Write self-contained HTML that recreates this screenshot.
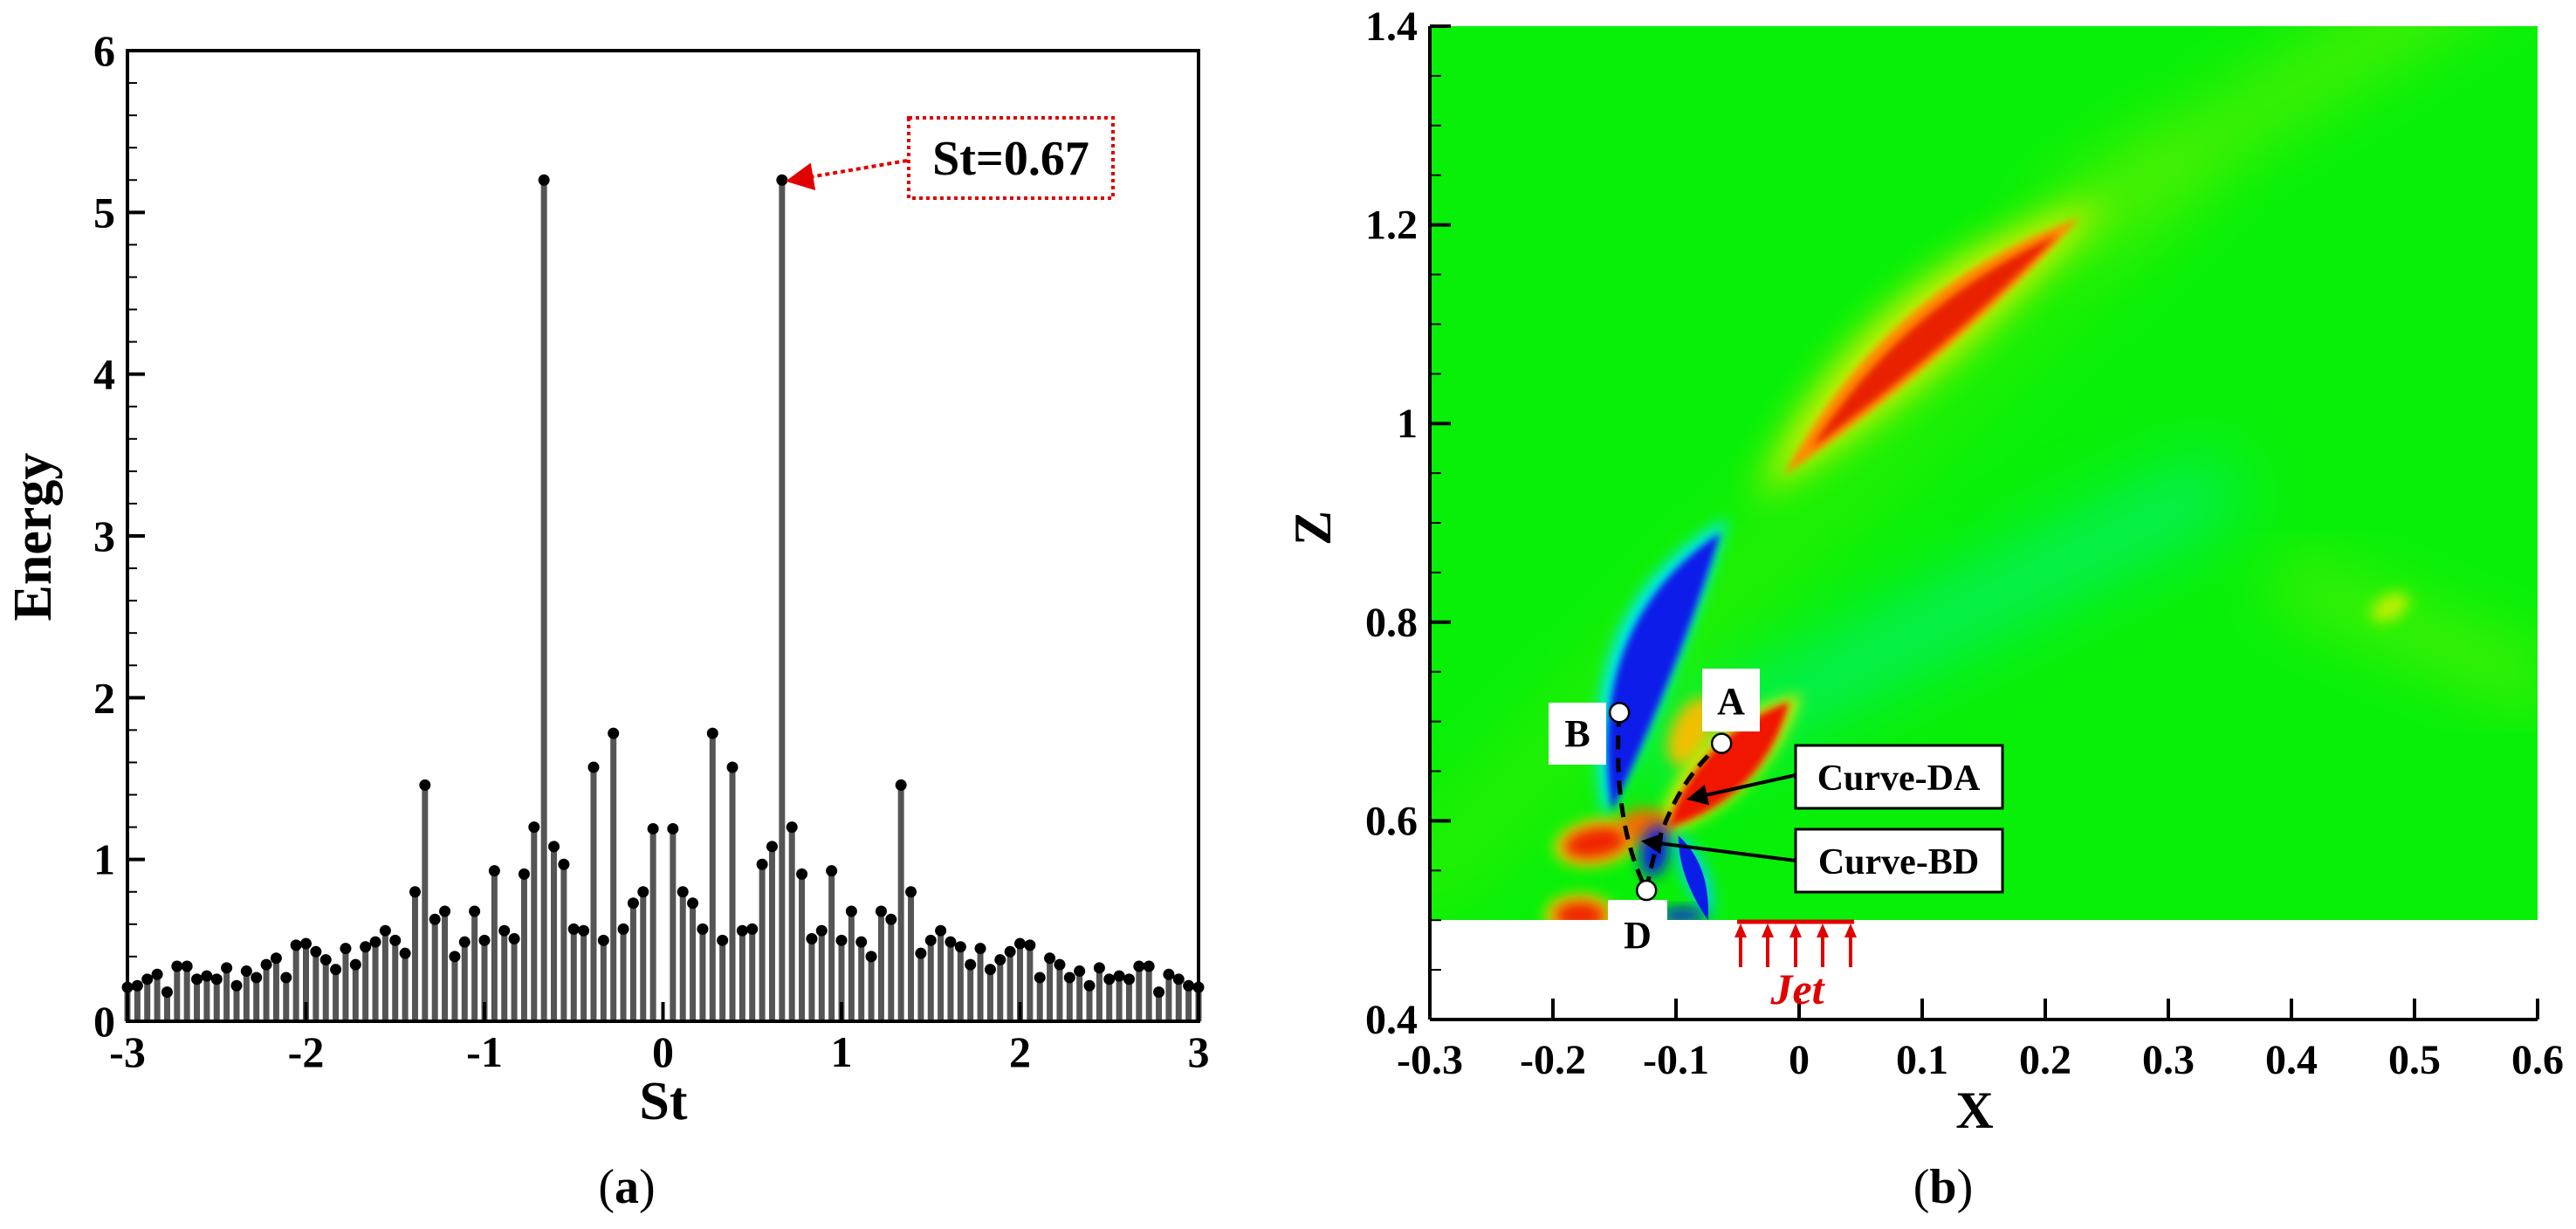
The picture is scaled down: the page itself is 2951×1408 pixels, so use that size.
<!DOCTYPE html>
<html><head><meta charset="utf-8">
<style>
html,body{margin:0;padding:0;background:#fff;}
svg{display:block;font-family:"Liberation Serif",serif;}
</style></head>
<body>
<svg id="fig" width="2951" height="1408" viewBox="0 0 2951 1408" xmlns="http://www.w3.org/2000/svg">
<defs>
<filter id="b4" x="-50%" y="-50%" width="200%" height="200%"><feGaussianBlur stdDeviation="4"/></filter>
<filter id="b8" x="-50%" y="-50%" width="200%" height="200%"><feGaussianBlur stdDeviation="8"/></filter>
<filter id="b20" x="-50%" y="-50%" width="200%" height="200%"><feGaussianBlur stdDeviation="20"/></filter>
<filter id="b40" x="-50%" y="-50%" width="200%" height="200%"><feGaussianBlur stdDeviation="40"/></filter>
<clipPath id="fieldclip"><rect x="1638" y="30" width="1269" height="1024"/></clipPath>
<marker id="arrR" markerWidth="8" markerHeight="8" refX="6" refY="4" orient="auto" markerUnits="strokeWidth"><path d="M0,0 L8,4 L0,8 z" fill="#e00000"/></marker>
<marker id="arrK" markerWidth="6" markerHeight="6" refX="5" refY="3" orient="auto" markerUnits="strokeWidth"><path d="M0,0 L6,3 L0,6 z" fill="#000"/></marker>
</defs>
<g id="left"></g>
<g id="right"></g>
</svg>
<script>
// ---------- Panel (a) data ----------
const stStep = 1/18;
const energyHalf = [1.19,0.80,0.73,0.57,1.78,0.50,1.57,0.56,0.57,0.97,1.08,5.20,1.20,0.91,0.51,0.56,0.93,0.50,0.68,0.49,0.40,0.68,0.63,1.46,0.80,0.42,0.50,0.56,0.49,0.46,0.35,0.45,0.32,0.38,0.43,0.48,0.47,0.27,0.39,0.35,0.27,0.31,0.22,0.33,0.26,0.28,0.26,0.34,0.34,0.18,0.29,0.26,0.22,0.21];
const xTickLabels = ["-3","-2","-1","0","1","2","3"];
const yTickLabels = ["0","1","2","3","4","5","6"];

const NS = "http://www.w3.org/2000/svg";
function mk(parent, tag, attrs, text){
  const e = document.createElementNS(NS, tag);
  for (const k in attrs) e.setAttribute(k, attrs[k]);
  if (text !== undefined) e.textContent = text;
  parent.appendChild(e);
  return e;
}
const L = {x0:146, x1:1373, y0:58, y1:1170};
const sx = v => L.x0 + (v + 3) / 6 * (L.x1 - L.x0);
const sy = v => L.y1 - v / 6 * (L.y1 - L.y0);
const gl = document.getElementById('left');

const stems = mk(gl,'g',{});


for (let k = -energyHalf.length; k <= energyHalf.length; k++) {
  if (k === 0) continue;
  const e = energyHalf[Math.abs(k) - 1];
  const st = k * stStep;
  const ln = mk(stems,'line',{x1:sx(st),x2:sx(st),y1:L.y1,y2:sy(e),stroke:'#555',"stroke-width":7});
  
  
  const c = mk(stems,'circle',{cx:sx(st),cy:sy(e),r:6.5,fill:'#000'});
  
  
}
const fr = mk(gl,'rect',{x:L.x0,y:L.y0,width:L.x1-L.x0,height:L.y1-L.y0,fill:'none',stroke:'#000',"stroke-width":4});


for (let i = 0; i <= 30; i++) {
  const v = i * 0.2, major = i % 5 === 0;
  mk(gl,'line',{x1:L.x0,x2:L.x0+(major?20:11),y1:sy(v),y2:sy(v),stroke:'#000',"stroke-width":major?4:2});
}
yTickLabels.forEach((t,i)=>{
  const tx = mk(gl,'text',{x:L.x0-14,y:sy(+t)+17,"font-size":50,"font-weight":"bold","text-anchor":"end"},t);
  
  
});
xTickLabels.forEach((t,i)=>{
  mk(gl,'line',{x1:sx(+t),x2:sx(+t),y1:L.y1,y2:L.y1-22,stroke:'#000',"stroke-width":4});
  const tx = mk(gl,'text',{x:sx(+t),y:L.y1+52,"font-size":50,"font-weight":"bold","text-anchor":"middle"},t);
  
  
});
let t1 = mk(gl,'text',{x:760,y:1282,"font-size":62,"font-weight":"bold","text-anchor":"middle"},'St');
 
let t2 = mk(gl,'text',{x:58,y:615,"font-size":62,"font-weight":"bold","text-anchor":"middle",transform:"rotate(-90 58 615)"},'Energy');
 
let t3 = mk(gl,'text',{x:718,y:1378,"font-size":56,"text-anchor":"middle"},'');
t3.innerHTML = '(<tspan font-weight="bold">a</tspan>)';
 
const ann = mk(gl,'g',{});
 
mk(ann,'rect',{x:1041,y:135,width:234,height:92,fill:'#fff',stroke:'#e00000',"stroke-width":4,"stroke-dasharray":"4 4"});
mk(ann,'text',{x:1158,y:200,"font-size":56,"font-weight":"bold","text-anchor":"middle"},'St=0.67');
mk(ann,'line',{x1:1039,y1:184,x2:sx(12*stStep)+12,y2:sy(5.2),stroke:'#e00000',"stroke-width":4,"stroke-dasharray":"5 4","marker-end":"url(#arrR)"});

// ---------- Panel (b) ----------
const xTicksB = ["-0.3","-0.2","-0.1","0","0.1","0.2","0.3","0.4","0.5","0.6"];
const zTicksB = ["0.4","0.6","0.8","1","1.2","1.4"];
const R = {x0:1638, x1:2907, y0:30, y1:1168};
const px = x => R.x0 + (x + 0.3) / 0.9 * (R.x1 - R.x0);
const pz = z => R.y1 - (z - 0.4) / 1.0 * (R.y1 - R.y0);
const gr = document.getElementById('right');

const field = mk(gr,'g',{"clip-path":"url(#fieldclip)"});
 
mk(field,'rect',{x:R.x0,y:pz(1.4),width:R.x1-R.x0,height:pz(0.5)-pz(1.4),fill:'#08f008'});
function streak(g, xa, za, xb, zb, w, color, filt, op){
  return mk(g,'line',{x1:px(xa),y1:pz(za),x2:px(xb),y2:pz(zb),stroke:color,"stroke-width":w,"stroke-linecap":"round",filter:filt,opacity:op||1});
}
function blob(g, x, z, rx, ry, rot, color, filt, op){
  return mk(g,'ellipse',{cx:px(x),cy:pz(z),rx:rx,ry:ry,fill:color,filter:filt,opacity:op||1,transform:`rotate(${rot} ${px(x)} ${pz(z)})`});
}
function lens(g, a, c, b, w, color, filt, op){
  const A=[px(a[0]),pz(a[1])], C=[px(c[0]),pz(c[1])], B=[px(b[0]),pz(b[1])];
  const dx=B[0]-A[0], dy=B[1]-A[1], l=Math.hypot(dx,dy), nx=-dy/l*w*2, ny=dx/l*w*2;
  const d=`M${A[0]},${A[1]} Q${C[0]+nx},${C[1]+ny} ${B[0]},${B[1]} Q${C[0]-nx},${C[1]-ny} ${A[0]},${A[1]} Z`;
  return mk(g,'path',{d:d,fill:color,filter:filt||'',opacity:op||1,"stroke-linejoin":"round"});
}
streak(field,-0.3,0.55,0.3,1.25,110,'#50f000','url(#b40)',0.35);
streak(field,-0.1,0.67,0.33,0.93,80,'#00f0a0','url(#b40)',0.55);
streak(field,0.22,1.2,0.55,1.45,60,'#a0f000','url(#b40)',0.5);
streak(field,0.4,0.84,0.6,0.74,40,'#a8f000','url(#b40)',0.6);
blob(field,0.48,0.815,24,14,-30,'#e0f000','url(#b8)',0.8);
lens(field,[-0.035,0.925],[0.09,1.105],[0.25,1.225],44,'#e8f000','url(#b20)',0.95);
lens(field,[-0.012,0.948],[0.095,1.1],[0.228,1.207],28,'#ff8a00','url(#b4)');
lens(field,[0.01,0.975],[0.1,1.095],[0.21,1.19],18,'#e82400','url(#b4)');
lens(field,[-0.158,0.6],[-0.14,0.79],[-0.058,0.905],38,'#00e8f0','url(#b8)');
lens(field,[-0.152,0.61],[-0.135,0.78],[-0.064,0.89],30,'#0a1ee8','url(#b4)');
blob(field,-0.088,0.69,22,42,25,'#f0c000','url(#b8)',1);
lens(field,[-0.118,0.582],[-0.06,0.66],[0.002,0.728],34,'#f0e800','url(#b8)',0.9);
lens(field,[-0.108,0.592],[-0.055,0.655],[-0.008,0.72],26,'#f01800','url(#b4)');
blob(field,-0.165,0.578,48,26,-10,'#f0e000','url(#b8)',1);
blob(field,-0.165,0.578,38,18,-10,'#f02000','url(#b8)',1);
blob(field,-0.125,0.595,30,20,0,'#f07000','url(#b8)',1);
blob(field,-0.178,0.505,40,24,0,'#f0e000','url(#b8)',1);
blob(field,-0.178,0.505,30,16,0,'#f02000','url(#b8)',1);
blob(field,-0.117,0.57,16,30,10,'#0a1ee8','url(#b8)',1);
lens(field,[-0.1,0.59],[-0.085,0.55],[-0.07,0.5],14,'#00d0f0','url(#b8)');
lens(field,[-0.098,0.585],[-0.085,0.55],[-0.074,0.5],10,'#0a1ee8','');
blob(field,-0.095,0.505,26,8,0,'#0a1ee8','url(#b8)',1);

mk(gr,'line',{x1:R.x0,y1:R.y0,x2:R.x0,y2:R.y1,stroke:'#000',"stroke-width":4});
mk(gr,'line',{x1:R.x0,y1:R.y1,x2:R.x1,y2:R.y1,stroke:'#000',"stroke-width":4});
for (let i = 0; i <= 20; i++) {
  const z = 0.4 + i*0.05, major = i % 4 === 0;
  mk(gr,'line',{x1:R.x0,x2:R.x0+(major?24:13),y1:pz(z),y2:pz(z),stroke:'#000',"stroke-width":major?4:2});
}
zTicksB.forEach(t=>{
  const tx = mk(gr,'text',{x:R.x0-14,y:pz(+t)+16,"font-size":48,"font-weight":"bold","text-anchor":"end"},t);
   
});
xTicksB.forEach(t=>{
  mk(gr,'line',{x1:px(+t),x2:px(+t),y1:R.y1,y2:R.y1-24,stroke:'#000',"stroke-width":4});
  const tx = mk(gr,'text',{x:px(+t),y:R.y1+62,"font-size":48,"font-weight":"bold","text-anchor":"middle"},t);
   
});
let t4 = mk(gr,'text',{x:2262,y:1292,"font-size":60,"font-weight":"bold","text-anchor":"middle"},'X');
 
let t5 = mk(gr,'text',{x:1524,y:605,"font-size":60,"font-weight":"bold","text-anchor":"middle",transform:"rotate(-90 1524 605)"},'Z');
 
let t6 = mk(gr,'text',{x:2226,y:1378,"font-size":56,"text-anchor":"middle"},'');
t6.innerHTML = '(<tspan font-weight="bold">b</tspan>)';
 

const an = mk(gr,'g',{});
 
mk(an,'rect',{x:1842,y:1031,width:68,height:40,fill:'#fff'});
mk(an,'path',{d:`M${px(-0.146)},${pz(0.709)} Q${px(-0.152)},${pz(0.6)} ${px(-0.124)},${pz(0.53)}`,stroke:'#000',"stroke-width":5,fill:'none',"stroke-dasharray":"16 10"});
mk(an,'path',{d:`M${px(-0.124)},${pz(0.53)} Q${px(-0.11)},${pz(0.63)} ${px(-0.063)},${pz(0.678)}`,stroke:'#000',"stroke-width":5,fill:'none',"stroke-dasharray":"16 10"});
[[-0.146,0.709,'point-b'],[-0.063,0.678,'point-a'],[-0.124,0.53,'point-d']].forEach(p=>{
  const c = mk(an,'circle',{cx:px(p[0]),cy:pz(p[1]),r:11,fill:'#fff',stroke:'#000',"stroke-width":2.5});
   
});
mk(an,'rect',{x:1774,y:805,width:66,height:71,fill:'#fff'});
mk(an,'text',{x:1807,y:855,"font-size":44,"font-weight":"bold","text-anchor":"middle"},'B');
mk(an,'rect',{x:1950,y:766,width:66,height:72,fill:'#fff'});
mk(an,'text',{x:1983,y:818,"font-size":44,"font-weight":"bold","text-anchor":"middle"},'A');
mk(an,'text',{x:1876,y:1086,"font-size":44,"font-weight":"bold","text-anchor":"middle"},'D');
mk(an,'line',{x1:2057,y1:888,x2:1936,y2:915,stroke:'#000',"stroke-width":4,"marker-end":"url(#arrK)"});
mk(an,'line',{x1:2057,y1:986,x2:1884,y2:964,stroke:'#000',"stroke-width":4,"marker-end":"url(#arrK)"});
mk(an,'rect',{x:2057,y:854,width:237,height:72,fill:'#fff',stroke:'#000',"stroke-width":3});
mk(an,'text',{x:2175,y:905,"font-size":42,"font-weight":"bold","text-anchor":"middle"},'Curve-DA');
mk(an,'rect',{x:2057,y:950,width:237,height:72,fill:'#fff',stroke:'#000',"stroke-width":3});
mk(an,'text',{x:2175,y:1001,"font-size":42,"font-weight":"bold","text-anchor":"middle"},'Curve-BD');
const jet = mk(gr,'g',{});
 
mk(jet,'line',{x1:1990,y1:1056,x2:2124,y2:1056,stroke:'#e00000',"stroke-width":5});
[1994,2025,2057,2088,2120].forEach(x=>{
  mk(jet,'line',{x1:x,y1:1108,x2:x,y2:1070,stroke:'#e00000',"stroke-width":4});
  mk(jet,'path',{d:`M${x-7},${1074} L${x},${1058} L${x+7},${1074} z`,fill:'#e00000'});
});
mk(jet,'text',{x:2059,y:1150,"font-size":50,"font-weight":"bold","font-style":"italic","text-anchor":"middle",fill:'#e00000'},'Jet');
</script>
</body></html>
